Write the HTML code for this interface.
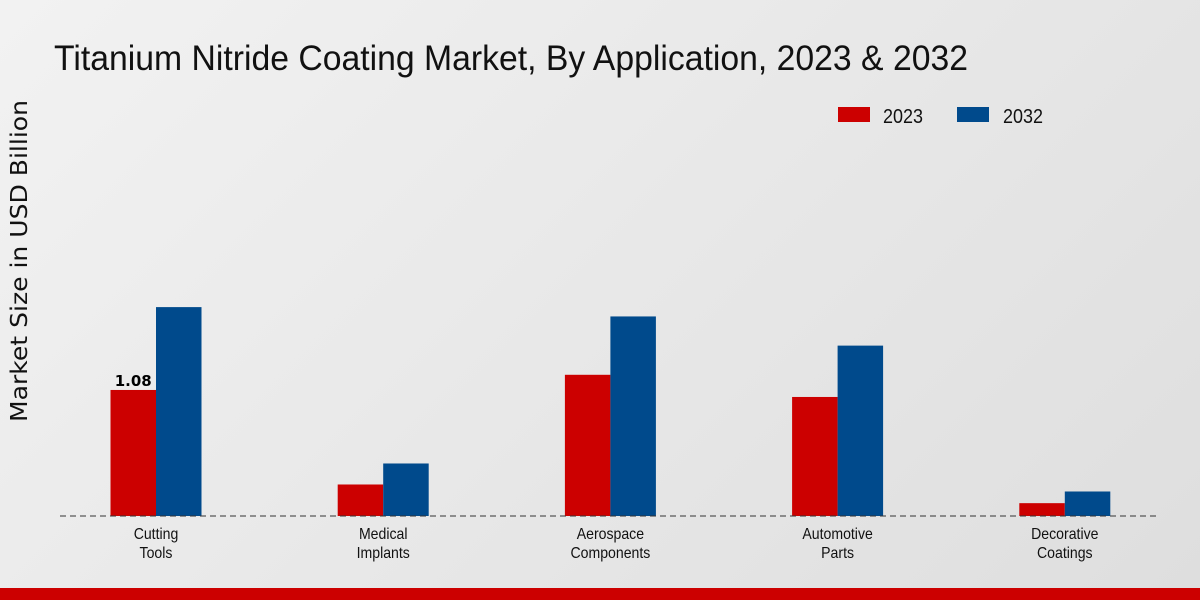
<!DOCTYPE html>
<html><head><meta charset="utf-8"><style>
body{margin:0;width:1200px;height:600px;overflow:hidden;background:linear-gradient(135deg,#f2f2f2 0%,#e6e6e6 60%,#dedede 100%);font-family:"Liberation Sans Narrow","Liberation Sans",sans-serif;}
svg{position:absolute;left:0;top:0}
</style></head><body>
<svg width="1200" height="600">
<text x="54" y="70" font-size="35" fill="#111" textLength="914" lengthAdjust="spacingAndGlyphs">Titanium Nitride Coating Market, By Application, 2023 &amp; 2032</text>
<text transform="translate(27,261) rotate(-90)" text-anchor="middle" font-size="23" fill="#111" font-family="DejaVu Sans, sans-serif" textLength="322" lengthAdjust="spacingAndGlyphs">Market Size in USD Billion</text>
<g>
<rect x="838" y="107" width="32" height="15" fill="#cc0000"/>
<text x="883" y="123" font-size="20" fill="#111" textLength="40" lengthAdjust="spacingAndGlyphs">2023</text>
<rect x="957" y="107" width="32" height="15" fill="#004a8c"/>
<text x="1003" y="123" font-size="20" fill="#111" textLength="40" lengthAdjust="spacingAndGlyphs">2032</text>
</g>
<g id="bars"></g>
<line x1="60" y1="516" x2="1160" y2="516" stroke="#333" stroke-dasharray="6,4"/>
<g id="labels"></g>
<rect x="0" y="588" width="1200" height="12" fill="#cc0000"/>
</svg>
<script>
const categories=[["Cutting","Tools"],["Medical","Implants"],["Aerospace","Components"],["Automotive","Parts"],["Decorative","Coatings"]];
const values2023=[1.08,0.27,1.21,1.02,0.11];
const values2032=[1.79,0.45,1.71,1.46,0.21];
const NS="http://www.w3.org/2000/svg";
const base=516,scale=116.7,x0=156,step=227.2,bw=45.5;
const yScale=v=>base-v*scale;
const xCenter=i=>x0+i*step;
const bars=document.getElementById('bars'),labels=document.getElementById('labels');
categories.forEach((c,i)=>{
  [[values2023,'#cc0000',-bw,'2023'],[values2032,'#004a8c',0,'2032']].forEach(([arr,col,off,yr])=>{
    const r=document.createElementNS(NS,'rect');
    r.setAttribute('x',xCenter(i)+off);r.setAttribute('y',yScale(arr[i]));
    r.setAttribute('width',bw);r.setAttribute('height',base-yScale(arr[i]));r.setAttribute('fill',col);
    
    
    bars.appendChild(r);
  });
  c.forEach((line,k)=>{
    const t=document.createElementNS(NS,'text');
    t.setAttribute('x',xCenter(i));t.setAttribute('y',539+k*19);t.setAttribute('text-anchor','middle');
    t.setAttribute('font-size','16');t.setAttribute('fill','#111');t.textContent=line;
    
    
    labels.appendChild(t);
    const w=t.getComputedTextLength();
    t.setAttribute('textLength',w*0.88);t.setAttribute('lengthAdjust','spacingAndGlyphs');
  });
});
const v=document.createElementNS(NS,'text');
v.setAttribute('x',xCenter(0)-bw/2);v.setAttribute('y',yScale(values2023[0])-4);
v.setAttribute('text-anchor','middle');v.setAttribute('font-size','15');v.setAttribute('font-weight','bold');
v.setAttribute('font-family','DejaVu Sans, sans-serif');v.textContent=values2023[0].toFixed(2);


labels.appendChild(v);
</script>
</body></html>
